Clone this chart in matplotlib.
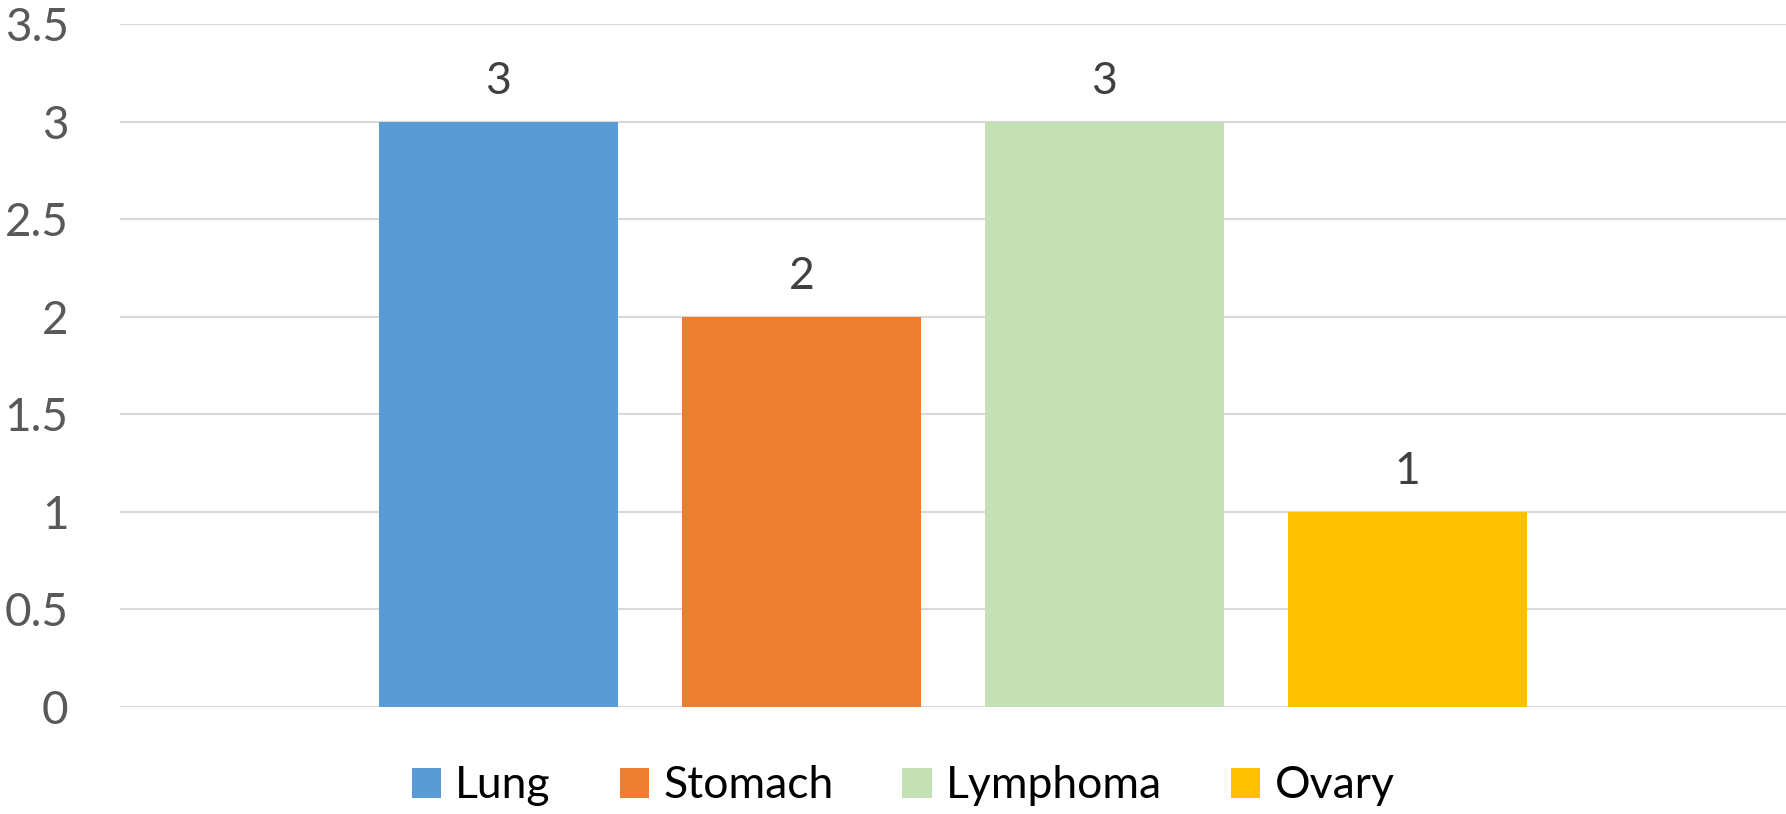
import matplotlib
matplotlib.use("Agg")
import matplotlib.pyplot as plt
from matplotlib.patches import Patch

categories = ["Lung", "Stomach", "Lymphoma", "Ovary"]
values = [3, 2, 3, 1]
colors = ["#5B9BD5", "#ED7D31", "#C5E0B4", "#FFC000"]
yticks = [0, 0.5, 1, 1.5, 2, 2.5, 3, 3.5]
ytick_labels = ["0", "0.5", "1", "1.5", "2", "2.5", "3", "3.5"]

plt.rcParams['font.family'] = ['Lato', 'DejaVu Sans']

fig = plt.figure(figsize=(17.86, 8.14), dpi=100)
ax = fig.add_axes([0.0672, 0.1314, 0.9328, 0.8391])

spacing = 0.1819
width = 0.1435
for i, (c, v, col) in enumerate(zip(categories, values, colors)):
    x = (i - 1.5) * spacing
    ax.bar(x, v, width=width, color=col, zorder=3, label=c)
    ax.annotate(str(v), (x, v), xytext=(0, 14), textcoords="offset points",
                ha="center", va="bottom", fontsize=32, color="#404040")

ax.set_xlim(-0.5, 0.5)
ax.set_ylim(0, 3.5)
ax.set_yticks(yticks)
ax.set_yticklabels(ytick_labels)
ax.set_xticks([])
ax.tick_params(axis='y', length=0, pad=37, labelsize=33, labelcolor="#595959")
ax.grid(axis='y', color="#D9D9D9", linewidth=1.5, zorder=0)
for s in ax.spines.values():
    s.set_visible(False)

handles = [Patch(facecolor=col, edgecolor='none', label=c) for c, col in zip(categories, colors)]
fig.legend(handles=handles, loc="center", bbox_to_anchor=(903/1786, 1 - 786/814),
           ncol=4, frameon=False, fontsize=32, handlelength=0.66, handleheight=0.66,
           handletextpad=0.32, columnspacing=1.55, labelcolor="#000000")

fig.savefig("out.png", dpi=100)
